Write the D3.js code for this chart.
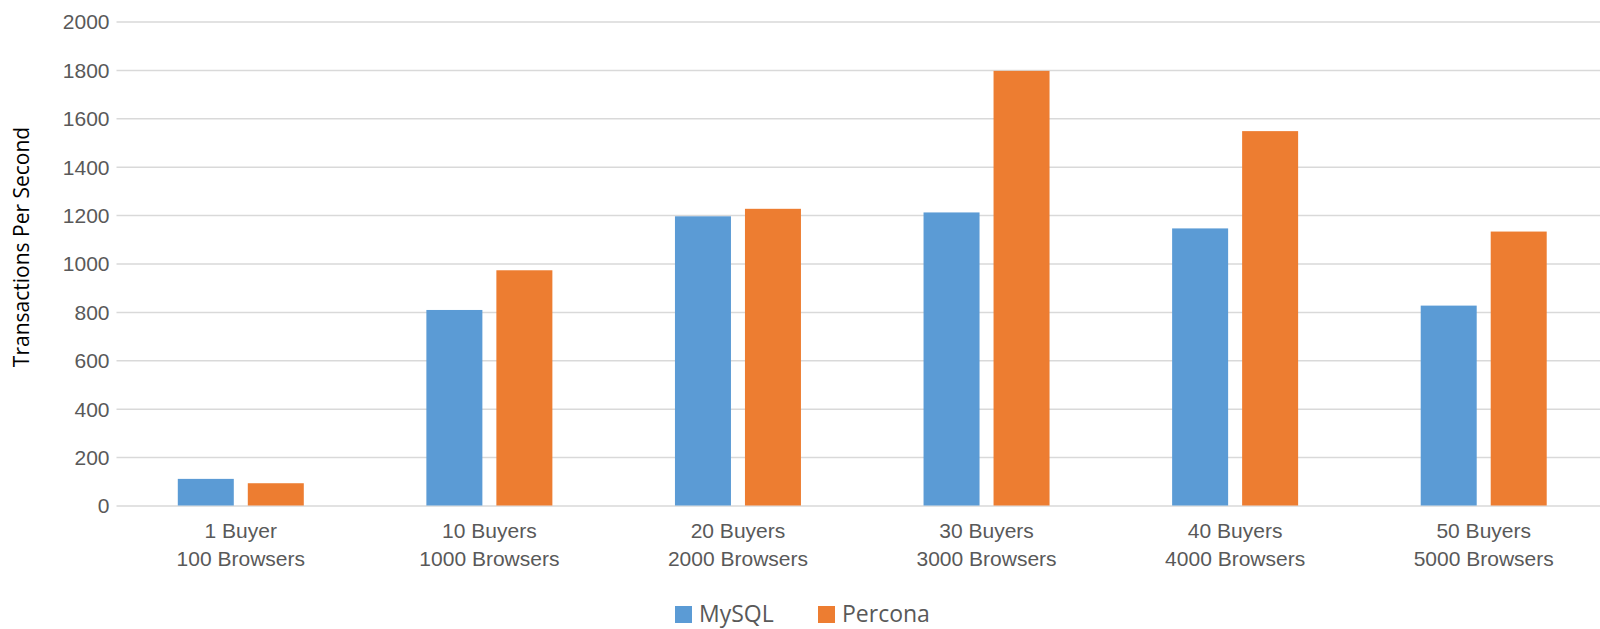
<!DOCTYPE html>
<html>
<head>
<meta charset="utf-8">
<script src="https://cdn.jsdelivr.net/npm/d3@7"></script>
<style>
  body { margin: 0; background: #fff; overflow: hidden; }
  svg { display: block; font-family: "Open Sans", sans-serif; }
  .grid line { stroke: #d9d9d9; stroke-width: 1.5; }
  .tick text { fill: #595959; }
</style>
</head>
<body>
<div id="chart"></div>
<script>
const categories = [
  ["1 Buyer", "100 Browsers"],
  ["10 Buyers", "1000 Browsers"],
  ["20 Buyers", "2000 Browsers"],
  ["30 Buyers", "3000 Browsers"],
  ["40 Buyers", "4000 Browsers"],
  ["50 Buyers", "5000 Browsers"]
];
const seriesNames = ["MySQL", "Percona"];
const mysql = [110, 808, 1195, 1211, 1145, 826];
const percona = [92, 972, 1226, 1796, 1547, 1132];
const yTicks = [0, 200, 400, 600, 800, 1000, 1200, 1400, 1600, 1800, 2000];
const colors = ["#5b9bd5", "#ed7d31"];

const w = 1600;
const h = 629;
// plot area runs a little past the right edge of the picture
const plotLeft = 116.5, plotRight = 1608, plotTop = 21.5, plotBottom = 505.5;

const keys = categories.map(c => c.join("|"));
const values = [mysql, percona];

const svg = d3.select("#chart")
    .append("svg")
    .attr("width", w)
    .attr("height", h);

const x0 = d3.scaleBand().domain(keys).range([plotLeft, plotRight]);
const inner = 126;
const x1 = d3.scaleBand().domain(seriesNames)
    .range([(x0.bandwidth() - inner) / 2, (x0.bandwidth() + inner) / 2])
    .paddingInner(0.2);

const y = d3.scaleLinear().domain([0, 2000]).range([plotBottom, plotTop]);

// gridlines + y labels
const yAxis = d3.axisLeft(y)
    .tickValues(yTicks)
    .tickFormat(d3.format("d"))
    .tickSize(-(plotRight - plotLeft))
    .tickPadding(7);
svg.append("g")
    .attr("class", "grid")
    .attr("transform", `translate(${plotLeft},0)`)
    .call(yAxis)
    .call(g => g.select(".domain").remove())
    .selectAll("text")
    .attr("font-size", 21)
    .attr("dy", "0.35em");

// bars
const groups = svg.append("g")
    .selectAll("g")
    .data(keys)
    .enter()
    .append("g")
    .attr("transform", d => `translate(${x0(d)},0)`);

groups.selectAll("rect")
    .data((d, i) => seriesNames.map((s, j) => ({ s: s, v: values[j][i], c: colors[j] })))
    .enter()
    .append("rect")
    .attr("x", d => x1(d.s))
    .attr("y", d => y(d.v))
    .attr("width", x1.bandwidth())
    .attr("height", d => y(0) - y(d.v))
    .attr("fill", d => d.c);

// category labels
const xAxis = d3.axisBottom(x0).tickSize(0).tickPadding(0);
const xg = svg.append("g")
    .attr("transform", `translate(0,${plotBottom})`)
    .call(xAxis);
xg.select(".domain").remove();
xg.selectAll(".tick text").each(function(d) {
  const t = d3.select(this).text(null).attr("dy", null).attr("y", null).attr("font-size", 21);
  d.split("|").forEach((line, i) => {
    t.append("tspan").attr("x", 0).attr("y", 32 + i * 28).text(line);
  });
});

// y title
svg.append("text")
    .attr("transform", "translate(29,247) rotate(-90)")
    .attr("text-anchor", "middle")
    .attr("font-size", 21)
    .attr("fill", "#000")
    .text("Transactions Per Second");

// legend
const legendX = [675, 818];
const legend = svg.append("g")
    .selectAll("g")
    .data(seriesNames)
    .enter()
    .append("g")
    .attr("transform", (d, i) => `translate(${legendX[i]},606)`);
legend.append("rect")
    .attr("width", 17)
    .attr("height", 17)
    .attr("fill", (d, i) => colors[i]);
legend.append("text")
    .attr("x", 24)
    .attr("y", 16)
    .attr("font-size", 23)
    .attr("fill", "#595959")
    .text(d => d);
</script>
</body>
</html>
